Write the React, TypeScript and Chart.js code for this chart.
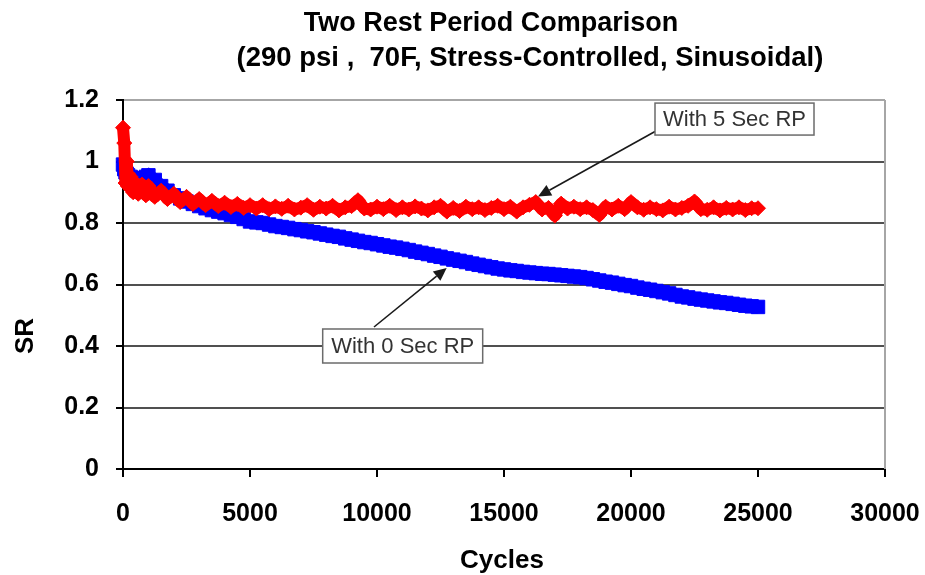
import React, { useEffect, useRef } from 'react';
import { Chart, registerables } from 'chart.js';

Chart.register(...registerables);

// ---------- text ----------
const TITLE_LINE_1 = 'Two Rest Period Comparison';
const TITLE_LINE_2 = '(290 psi ,  70F, Stress-Controlled, Sinusoidal)';
const X_TITLE = 'Cycles';
const Y_TITLE = 'SR';
const SERIES_5_LABEL = 'With 5 Sec RP';
const SERIES_0_LABEL = 'With 0 Sec RP';

// ---------- axes ----------
const X_MIN = 0;
const X_MAX = 30000;
const X_STEP = 5000;
const Y_MIN = 0;
const Y_MAX = 1.2;
const Y_STEP = 0.2;

// ---------- data ----------
const cycles = [
  0, 50, 100, 150, 200, 300, 400, 500, 600, 750, 900,
  1000, 1250, 1500, 1750, 2000, 2250, 2500, 2750, 3000, 3250, 3500, 3750,
  4000, 4250, 4500, 4750, 5000, 5250, 5500, 5750, 6000, 6250, 6500, 6750,
  7000, 7250, 7500, 7750, 8000, 8250, 8500, 8750, 9000, 9250, 9500, 9750,
  10000, 10250, 10500, 10750, 11000, 11250, 11500, 11750, 12000, 12250, 12500, 12750,
  13000, 13250, 13500, 13750, 14000, 14250, 14500, 14750, 15000, 15250, 15500, 15750,
  16000, 16250, 16500, 16750, 17000, 17250, 17500, 17750, 18000, 18250, 18500, 18750,
  19000, 19250, 19500, 19750, 20000, 20250, 20500, 20750, 21000, 21250, 21500, 21750,
  22000, 22250, 22500, 22750, 23000, 23250, 23500, 23750, 24000, 24250, 24500, 24750,
  25000,
];

// With 5 Sec RP (red)
const sr5Sec = [
  1.11, 1.06, 0.93, 1.0, 0.92, 0.95, 0.9, 0.93, 0.895, 0.925, 0.89,
  0.92, 0.885, 0.905, 0.878, 0.895, 0.868, 0.885, 0.862, 0.878, 0.858, 0.872, 0.855,
  0.866, 0.852, 0.862, 0.849, 0.858, 0.847, 0.858, 0.845, 0.854, 0.846, 0.856, 0.844,
  0.85, 0.858, 0.843, 0.853, 0.847, 0.856, 0.841, 0.851, 0.855, 0.874, 0.847, 0.844,
  0.853, 0.845, 0.856, 0.842, 0.851, 0.844, 0.854, 0.847, 0.841, 0.851, 0.856, 0.837,
  0.849, 0.839, 0.853, 0.845, 0.851, 0.842, 0.849, 0.856, 0.845, 0.853, 0.837, 0.851,
  0.859, 0.868, 0.844, 0.849, 0.824, 0.863, 0.847, 0.853, 0.845, 0.851, 0.842, 0.826,
  0.853, 0.844, 0.856, 0.845, 0.868, 0.851, 0.843, 0.851, 0.845, 0.841, 0.853, 0.844,
  0.849, 0.856, 0.87, 0.845, 0.843, 0.851, 0.841, 0.849, 0.844, 0.851, 0.842, 0.848,
  0.848,
];

// With 0 Sec RP (blue)
const sr0Sec = [
  0.99, 0.975, 0.965, 0.96, 0.955, 0.95, 0.945, 0.94, 0.94, 0.945, 0.95,
  0.955, 0.94, 0.92, 0.905, 0.89, 0.88, 0.87, 0.862, 0.855, 0.848, 0.842, 0.837,
  0.832, 0.826, 0.82, 0.813, 0.805, 0.802, 0.8, 0.795, 0.79, 0.787, 0.784, 0.78,
  0.777, 0.773, 0.77, 0.766, 0.762, 0.758, 0.755, 0.75, 0.746, 0.742, 0.738, 0.735,
  0.731, 0.727, 0.723, 0.72, 0.716, 0.712, 0.707, 0.703, 0.699, 0.694, 0.69, 0.685,
  0.681, 0.677, 0.673, 0.668, 0.664, 0.66, 0.656, 0.652, 0.649, 0.646, 0.644, 0.641,
  0.639, 0.637, 0.635, 0.634, 0.632, 0.63, 0.628, 0.626, 0.624, 0.621, 0.617, 0.613,
  0.609, 0.606, 0.602, 0.598, 0.595, 0.59, 0.586, 0.583, 0.579, 0.575, 0.571, 0.566,
  0.561, 0.558, 0.554, 0.551, 0.548, 0.545, 0.542, 0.54, 0.537, 0.534, 0.531, 0.529,
  0.527,
];

// ---------- annotation callouts (data coordinates) ----------
const CALLOUTS = [
  { text: SERIES_5_LABEL, x0: 20945, x1: 27205, yTop: 1.19, yBottom: 1.086, tail: [20945, 1.0976], head: [16339, 0.886] },
  { text: SERIES_0_LABEL, x0: 7862, x1: 14161, yTop: 0.4553, yBottom: 0.3447, tail: [9882, 0.4618], head: [12744, 0.6537] },
];

const FONT = '"Liberation Sans", Arial, Helvetica, sans-serif';

const overlayPlugin = {
  id: 'overlay',
  afterDraw(chart: any) {
    const { ctx, chartArea, scales } = chart;
    const xs = scales.x;
    const ys = scales.y;
    ctx.save();

    // right frame line
    ctx.strokeStyle = '#a6a6a6';
    ctx.lineWidth = 2;
    ctx.beginPath();
    ctx.moveTo(chartArea.right, chartArea.top);
    ctx.lineTo(chartArea.right, chartArea.bottom);
    ctx.stroke();

    // callouts
    for (const c of CALLOUTS) {
      const tx = xs.getPixelForValue(c.tail[0]);
      const ty = ys.getPixelForValue(c.tail[1]);
      const hx = xs.getPixelForValue(c.head[0]);
      const hy = ys.getPixelForValue(c.head[1]);
      const ang = Math.atan2(hy - ty, hx - tx);
      const headLen = 13;
      const headHalf = 6;
      const bx = hx - Math.cos(ang) * headLen;
      const by = hy - Math.sin(ang) * headLen;
      ctx.strokeStyle = '#1a1a1a';
      ctx.fillStyle = '#1a1a1a';
      ctx.lineWidth = 1.6;
      ctx.beginPath();
      ctx.moveTo(tx, ty);
      ctx.lineTo(bx, by);
      ctx.stroke();
      ctx.beginPath();
      ctx.moveTo(hx, hy);
      ctx.lineTo(bx + Math.sin(ang) * headHalf, by - Math.cos(ang) * headHalf);
      ctx.lineTo(bx - Math.sin(ang) * headHalf, by + Math.cos(ang) * headHalf);
      ctx.closePath();
      ctx.fill();

      const l = xs.getPixelForValue(c.x0);
      const r = xs.getPixelForValue(c.x1);
      const t = ys.getPixelForValue(c.yTop);
      const b = ys.getPixelForValue(c.yBottom);
      ctx.fillStyle = '#ffffff';
      ctx.fillRect(l, t, r - l, b - t);
      ctx.strokeStyle = '#6b6b6b';
      ctx.lineWidth = 1.5;
      ctx.strokeRect(l, t, r - l, b - t);
      ctx.fillStyle = '#333333';
      ctx.font = `22px ${FONT}`;
      ctx.textAlign = 'center';
      ctx.textBaseline = 'middle';
      ctx.fillText(c.text, (l + r) / 2, (t + b) / 2 + 1);
    }

    // title
    ctx.fillStyle = '#000';
    ctx.textAlign = 'center';
    ctx.textBaseline = 'alphabetic';
    ctx.font = `bold 27px ${FONT}`;
    ctx.fillText(TITLE_LINE_1, 491, 31);
    ctx.font = `bold 27.5px ${FONT}`;
    ctx.fillText(TITLE_LINE_2, 530, 66);

    // axis titles
    ctx.font = `bold 26px ${FONT}`;
    ctx.fillText(X_TITLE, 502, 568);
    ctx.save();
    ctx.translate(33, 336);
    ctx.rotate(-Math.PI / 2);
    ctx.fillText(Y_TITLE, 0, 0);
    ctx.restore();

    ctx.restore();
  },
};

export default function App() {
  const canvasRef = useRef<HTMLCanvasElement | null>(null);

  useEffect(() => {
    if (!canvasRef.current) return;
    const chart = new Chart(canvasRef.current, {
      type: 'scatter',
      data: {
        datasets: [
          {
            label: SERIES_5_LABEL,
            data: cycles.map((c, i) => ({ x: c, y: sr5Sec[i] })),
            showLine: true,
            borderColor: '#ff0000',
            borderWidth: 12,
            borderJoinStyle: 'round',
            backgroundColor: '#ff0000',
            pointStyle: 'rectRot',
            pointRadius: 7.5,
            pointBorderWidth: 1,
            pointBorderColor: '#ff0000',
            pointBackgroundColor: '#ff0000',
            clip: false,
            order: 0,
          },
          {
            label: SERIES_0_LABEL,
            data: cycles.map((c, i) => ({ x: c, y: sr0Sec[i] })),
            showLine: true,
            borderColor: '#0000ff',
            borderWidth: 13,
            backgroundColor: '#0000ff',
            pointStyle: 'rect',
            pointRadius: 9.5,
            pointBorderWidth: 1,
            pointBorderColor: '#0000ff',
            pointBackgroundColor: '#0000ff',
            clip: false,
            order: 1,
          },
        ],
      },
      options: {
        animation: false,
        responsive: true,
        maintainAspectRatio: false,
        layout: { padding: { top: 100, right: 40, left: 0, bottom: 0 } },
        plugins: {
          legend: { display: false },
          tooltip: { enabled: false },
          title: { display: false },
        },
        scales: {
          x: {
            type: 'linear',
            min: X_MIN,
            max: X_MAX,
            afterFit: (s: any) => {
              s.height = 106;
              s.paddingLeft = 0;
              s.paddingRight = 0;
            },
            border: { display: true, color: '#000', width: 2 },
            grid: {
              drawOnChartArea: false,
              drawTicks: true,
              tickLength: 8,
              color: '#000',
              tickColor: '#000',
              lineWidth: 2,
            },
            ticks: {
              stepSize: X_STEP,
              autoSkip: false,
              maxRotation: 0,
              padding: 22,
              color: '#000',
              font: { family: FONT, size: 25, weight: 'bold' },
              callback: (v: any) => String(v),
            },
            title: { display: false },
          },
          y: {
            type: 'linear',
            min: Y_MIN,
            max: Y_MAX,
            afterFit: (s: any) => {
              s.width = 123;
              s.paddingTop = 0;
              s.paddingBottom = 0;
            },
            border: { display: true, color: '#000', width: 2 },
            grid: {
              drawOnChartArea: true,
              drawTicks: true,
              tickLength: 7,
              lineWidth: 2,
              color: (c: any) => (c.tick && Math.abs(c.tick.value - Y_MAX) < 1e-6 ? '#a6a6a6' : '#505050'),
              tickColor: '#000',
            },
            ticks: {
              stepSize: Y_STEP,
              padding: 17,
              color: '#000',
              font: { family: FONT, size: 25, weight: 'bold' },
              callback: (v: any) => String(Math.round(Number(v) * 10) / 10),
            },
            title: { display: false },
          },
        },
      },
      plugins: [overlayPlugin],
    });
    return () => chart.destroy();
  }, []);

  return (
    <div style={{ position: 'fixed', left: 0, top: 0, width: 925, height: 575, background: '#fff' }}>
      <canvas ref={canvasRef} />
    </div>
  );
}
